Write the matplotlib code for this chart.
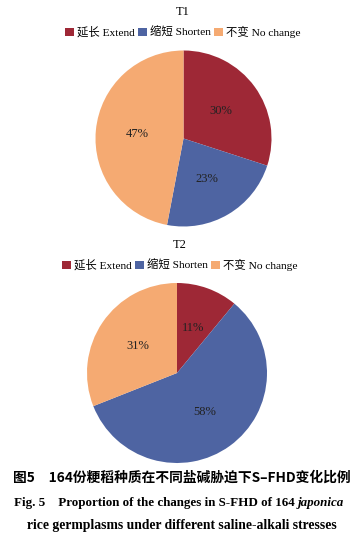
import matplotlib
matplotlib.use("Agg")
import matplotlib.pyplot as plt
from matplotlib.patches import Patch

plt.rcParams['font.family'] = ['Liberation Serif', 'Noto Sans CJK SC', 'DejaVu Sans']

categories = ['延长 Extend', '缩短 Shorten', '不变 No change']
t1_values = [30, 23, 47]
t2_values = [11, 58, 31]
titles = ['T1', 'T2']
colors = ['#9E2836', '#4E64A2', '#F5AA72']

W, H = 357, 537
fig = plt.figure(figsize=(W / 100, H / 100), dpi=100)

def add_pie(cx, cy, r, values):
    ax = fig.add_axes([(cx - r) / W, (H - cy - r) / H, 2 * r / W, 2 * r / H])
    ax.pie(values, colors=colors, startangle=90, counterclock=False,
           autopct='%d%%', pctdistance=0.53, radius=1,
           textprops=dict(fontsize=9, color='#222222'),
           wedgeprops=dict(linewidth=0))
    ax.set_xlim(-1, 1)
    ax.set_ylim(-1, 1)
    ax.set_aspect('equal')
    ax.axis('off')
    return ax

add_pie(183.5, 138.5, 88, t1_values)
add_pie(177, 373, 90, t2_values)

handles = [Patch(facecolor=c, edgecolor='none') for c in colors]
for title, ty, ly, lx in [(titles[0], 12, 32, 183), (titles[1], 245, 265, 180)]:
    fig.text(lx / W, 1 - ty / H, title, ha='center', va='center', fontsize=9)
    fig.legend(handles, categories, loc='center', bbox_to_anchor=(lx / W, 1 - ly / H),
               ncol=3, frameon=False, fontsize=8.2, handlelength=0.75, handleheight=0.75,
               handletextpad=0.3, columnspacing=0.3, borderpad=0)

fig.text(181.5 / W, 1 - 478 / H, '图5　164份粳稻种质在不同盐碱胁迫下S–FHD变化比例',
         ha='center', va='center', fontsize=9.9, fontweight='bold',
         family=['Noto Sans CJK SC', 'DejaVu Sans'])

# line 2 with italic word
fig.canvas.draw()
r = fig.canvas.get_renderer()
y2 = 1 - 503 / H
t_a = fig.text(0, y2, 'Fig. 5    Proportion of the changes in S-FHD of 164 ', ha='left', va='center',
               fontsize=9.4, fontweight='bold')
t_b = fig.text(0, y2, 'japonica', ha='left', va='center', fontsize=9.4,
               fontweight='bold', fontstyle='italic')
wa = t_a.get_window_extent(r).width
wb = t_b.get_window_extent(r).width
x0 = (179 - (wa + wb) / 2)
t_a.set_x(x0 / W)
t_b.set_x((x0 + wa) / W)

fig.text(182 / W, 1 - 525 / H, 'rice germplasms under different saline-alkali stresses',
         ha='center', va='center', fontsize=9.8, fontweight='bold')

fig.savefig('out.png', dpi=100)
